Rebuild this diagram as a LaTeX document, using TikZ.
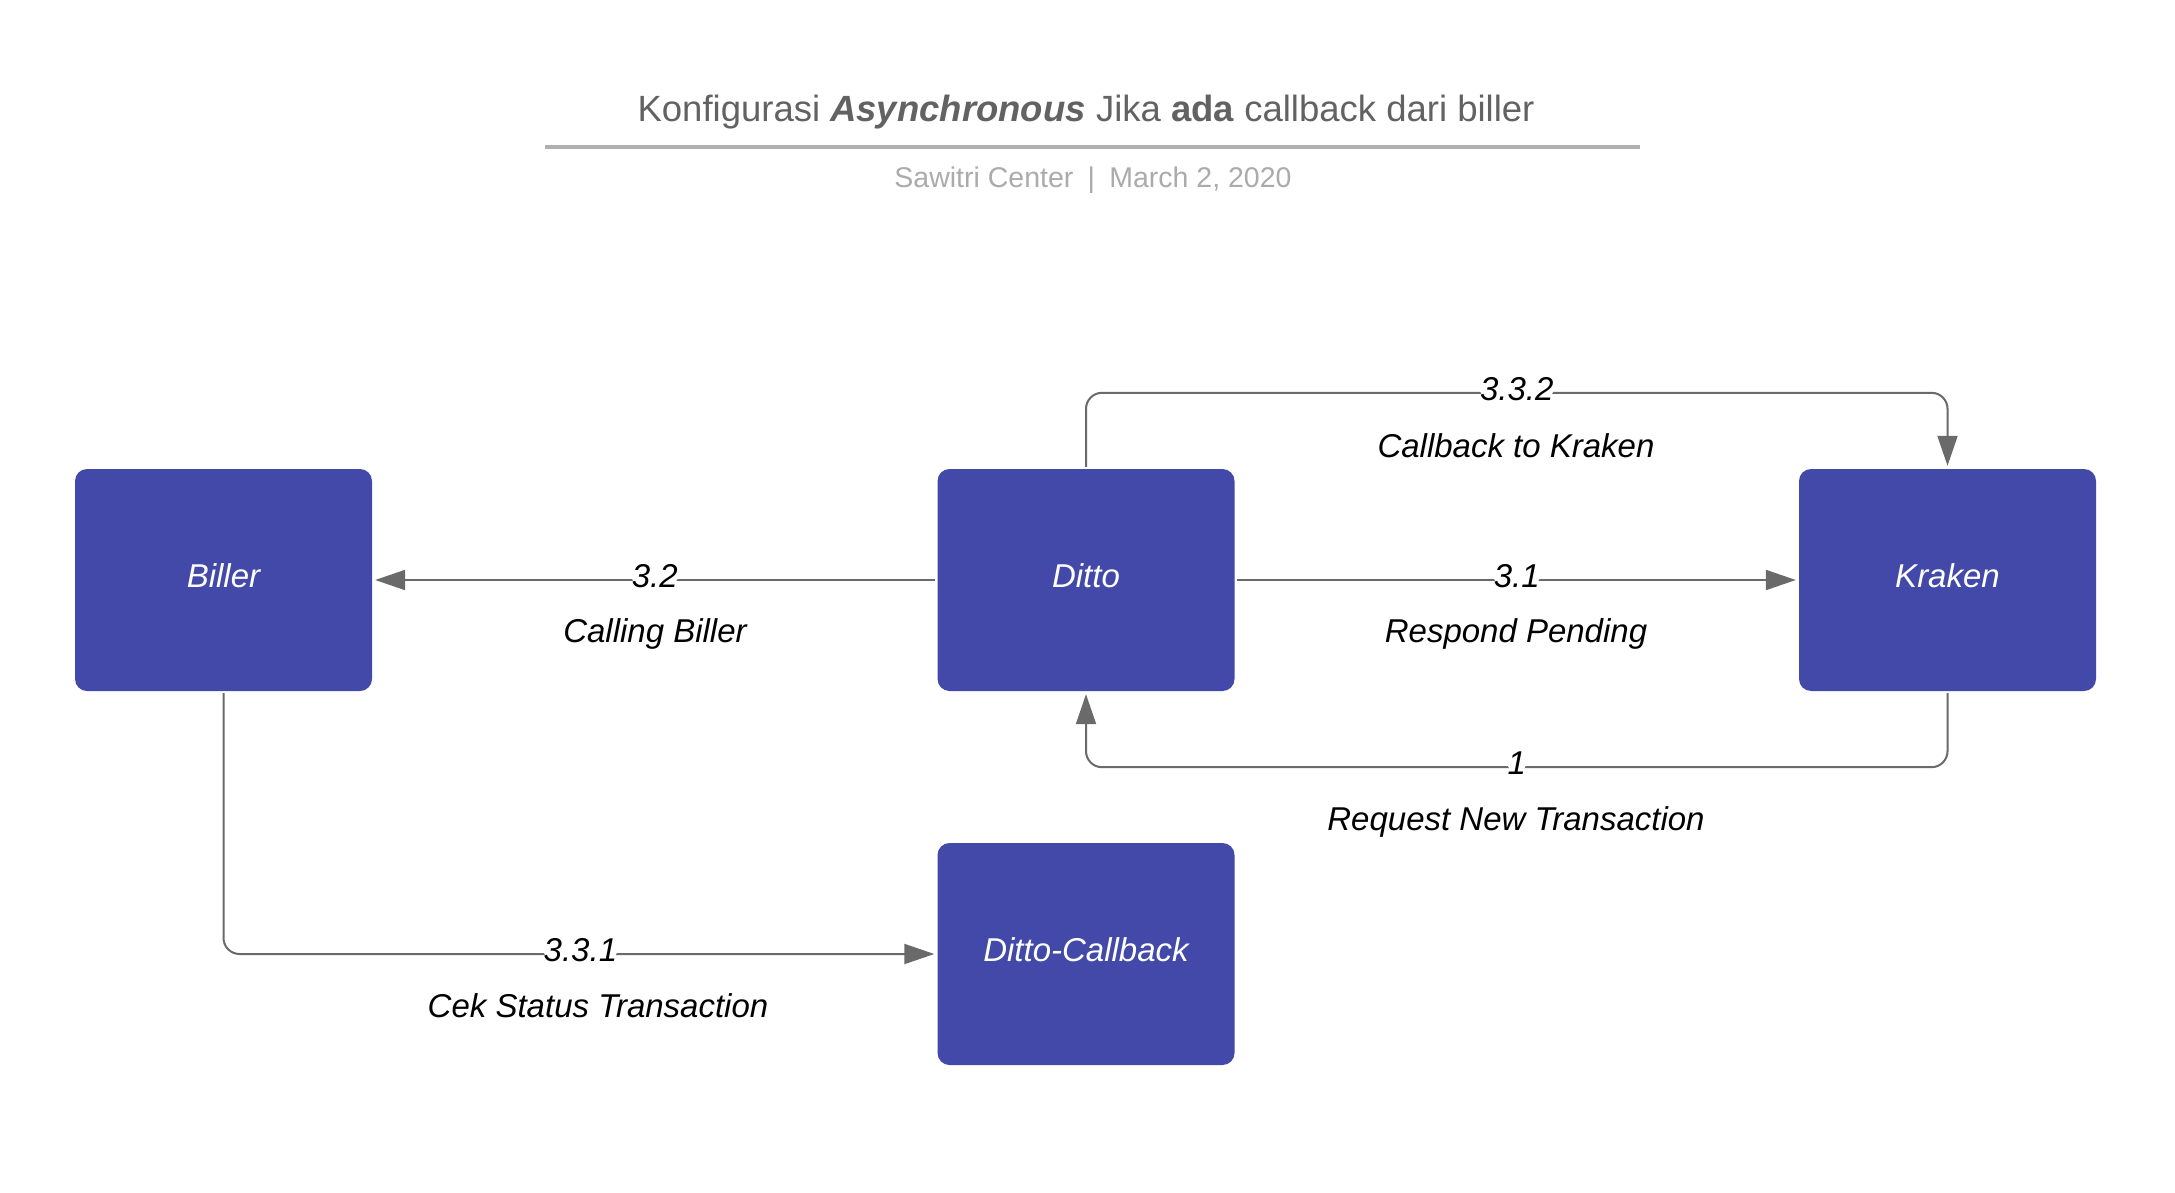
\documentclass[tikz,border=0pt]{standalone}
\usepackage{fontspec}
\setmainfont{Liberation Sans}
\usetikzlibrary{arrows.meta}
\definecolor{boxblue}{HTML}{4349A8}
\definecolor{titlegray}{HTML}{626262}
\definecolor{subgray}{HTML}{ABABAB}
\definecolor{rulegray}{HTML}{B0B0B0}
\definecolor{conngray}{HTML}{6A6A6A}
\tikzset{
  procbox/.style={draw=none, fill=boxblue, rounded corners=12pt, minimum width=297pt, minimum height=222pt, inner sep=0pt, text height=24pt, text depth=10pt, text=white, font=\fontsize{33}{40}\selectfont\itshape},
  conn/.style={draw=conngray, line width=2pt, rounded corners=16pt, -{Triangle[length=30pt,width=20pt]}, shorten >=3pt, shorten <=2pt},
  numlbl/.style={fill=white, inner sep=1pt, yshift=4pt, text=black, font=\fontsize{33}{40}\selectfont\itshape},
  desclbl/.style={inner sep=0pt, text=black, font=\fontsize{33}{40}\selectfont\itshape},
}
\begin{document}
\begin{tikzpicture}[x=1pt,y=-1pt]
\useasboundingbox[fill=white] (0,0) rectangle (2175,1193);
% title
\node[text=titlegray, font=\fontsize{36.5}{44}\selectfont, inner sep=0pt] (title) at (1086,112) {Konfigurasi \textbf{\textit{Asynchronous}} Jika \textbf{ada} callback dari biller};
\coordinate (ruleL) at (545,147);
\coordinate (ruleR) at (1640,147);
\draw[rulegray, line width=4pt] (ruleL) -- (ruleR);
\node[text=subgray, font=\fontsize{28.5}{34}\selectfont, inner sep=0pt] (subtitle) at (1093,180) {Sawitri Center\hspace{0.5em}|\hspace{0.5em}March 2, 2020};
% boxes
\node[procbox] (biller) at (223.5,580) {Biller};
\node[procbox] (ditto) at (1086,580) {Ditto};
\node[procbox] (kraken) at (1947.5,580) {Kraken};
\node[procbox] (dcb) at (1086,954) {Ditto-Callback};
% connectors
\draw[conn] (ditto.west) -- node[numlbl] {3.2} (biller.east);
\draw[conn] (ditto.east) -- node[numlbl] {3.1} (kraken.west);
\draw[conn] (ditto.north) -- ++(0,-76) -| node[pos=0.25, numlbl] {3.3.2} (kraken.north);
\draw[conn] (kraken.south) -- ++(0,76) -| node[pos=0.25, numlbl] {1} (ditto.south);
\draw[conn] (biller.south) |- node[pos=0.75, numlbl] {3.3.1} (dcb.west);
% descriptions
\node[desclbl] (d32) at (655,634) {Calling Biller};
\node[desclbl] (d31) at (1516,634) {Respond Pending};
\node[desclbl] (d332) at (1516,446) {Callback to Kraken};
\node[desclbl] (d1) at (1516,822) {Request New Transaction};
\node[desclbl] (d331) at (598,1006) {Cek Status Transaction};
\end{tikzpicture}
\end{document}
